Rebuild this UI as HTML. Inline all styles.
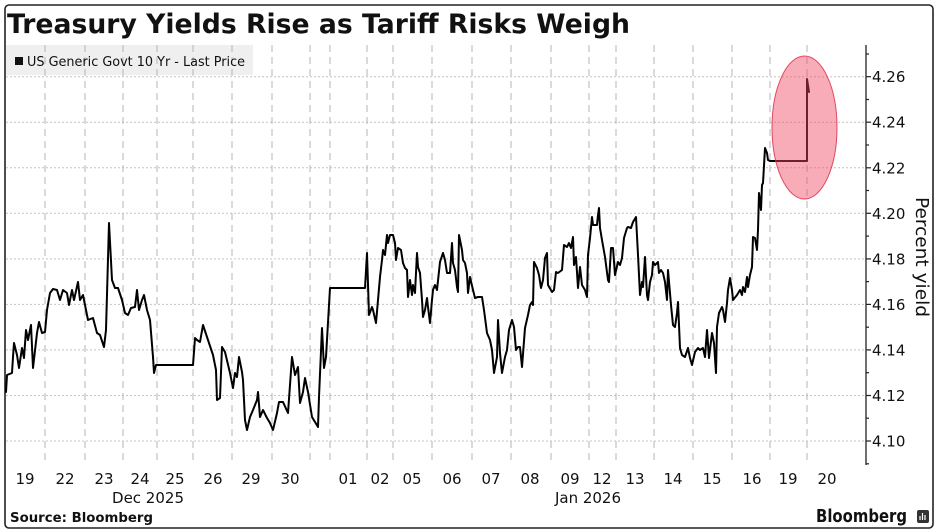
<!DOCTYPE html>
<html>
<head>
<meta charset="utf-8">
<style>
  html,body{margin:0;padding:0;background:#fff;}
  svg{display:block;}
  text{font-family:"DejaVu Sans","Liberation Sans",sans-serif;fill:#111;}
</style>
</head>
<body>
<svg width="937" height="530" viewBox="0 0 937 530" xmlns="http://www.w3.org/2000/svg">
  <rect x="0" y="0" width="937" height="530" fill="#fff"/>
  <!-- frame -->
  <rect x="5" y="5" width="928" height="523" rx="4" ry="4" fill="none" stroke="#222" stroke-width="1.6"/>

  <!-- title -->
  <text x="7" y="33" font-size="27" font-weight="bold" textLength="623" lengthAdjust="spacingAndGlyphs">Treasury Yields Rise as Tariff Risks Weigh</text>

  <!-- legend box -->
  <rect x="6" y="45" width="247" height="30" fill="#efefef"/>

  <!-- horizontal gridlines -->
  <g stroke="#c4c4c4" stroke-width="1" stroke-dasharray="2,2">
    <line x1="6" y1="76.7" x2="866" y2="76.7"/>
    <line x1="6" y1="122.2" x2="866" y2="122.2"/>
    <line x1="6" y1="167.8" x2="866" y2="167.8"/>
    <line x1="6" y1="213.3" x2="866" y2="213.3"/>
    <line x1="6" y1="258.9" x2="866" y2="258.9"/>
    <line x1="6" y1="304.4" x2="866" y2="304.4"/>
    <line x1="6" y1="349.9" x2="866" y2="349.9"/>
    <line x1="6" y1="395.5" x2="866" y2="395.5"/>
    <line x1="6" y1="441" x2="866" y2="441"/>
  </g>

  <!-- vertical gridlines -->
  <g stroke="#b4b4b4" stroke-width="1" stroke-dasharray="7,5">
    <line x1="45" y1="45" x2="45" y2="463"/>
    <line x1="85" y1="45" x2="85" y2="463"/>
    <line x1="123" y1="45" x2="123" y2="463"/>
    <line x1="157" y1="45" x2="157" y2="463"/>
    <line x1="193" y1="45" x2="193" y2="463"/>
    <line x1="232" y1="45" x2="232" y2="463"/>
    <line x1="272" y1="45" x2="272" y2="463"/>
    <line x1="310" y1="45" x2="310" y2="463"/>
    <line x1="330" y1="45" x2="330" y2="463"/>
    <line x1="367" y1="45" x2="367" y2="463"/>
    <line x1="393" y1="45" x2="393" y2="463"/>
    <line x1="432" y1="45" x2="432" y2="463"/>
    <line x1="472" y1="45" x2="472" y2="463"/>
    <line x1="511" y1="45" x2="511" y2="463"/>
    <line x1="551" y1="45" x2="551" y2="463"/>
    <line x1="589" y1="45" x2="589" y2="463"/>
    <line x1="616" y1="45" x2="616" y2="463"/>
    <line x1="654" y1="45" x2="654" y2="463"/>
    <line x1="693" y1="45" x2="693" y2="463"/>
    <line x1="732" y1="45" x2="732" y2="463"/>
    <line x1="770" y1="45" x2="770" y2="463"/>
    <line x1="807" y1="45" x2="807" y2="463"/>
  </g>

  <!-- legend content -->
  <rect x="15" y="57" width="8" height="8" fill="#111"/>
  <text x="27" y="66" font-size="13.5" textLength="218" lengthAdjust="spacingAndGlyphs">US Generic Govt 10 Yr - Last Price</text>

  <!-- data line -->
  <polyline fill="none" stroke="#000" stroke-width="2" stroke-linejoin="round" stroke-linecap="round" points="
6,392 7,375 12,373 13,357 14,343 17,355 19,368 22,348 24,358 26,330 28,340 31,325 33,368 37,333 39,322 42,333 45,332 47,310 50,293 53,289 57,290 60,300 63,290 67,293 69,305 72,290 74,300 78,282 80,300 83,295 86,310 88,320 93,318 97,333 100,335 104,347 106,330 109,223 112,280 115,288 118,288 122,300 125,313 128,315 131,308 135,307 137,290 139,310 142,300 144,295 147,310 150,320 153,357 154,373 156,365 193,365 195,338 197,340 200,342 203,325 208,340 213,355 216,370 217,400 220,398 222,347 225,352 230,373 233,388 235,373 237,377 239,357 242,372 243,380 245,420 247,430 250,417 253,410 257,400 258,392 260,417 263,410 267,418 270,423 273,430 277,413 279,402 283,402 288,413 292,357 295,375 298,367 300,403 303,392 305,378 308,392 312,417 315,422 318,427 319,397 322,328 324,368 326,357 330,288
365,288 367,253 369,315 372,307 373,310 376,323 378,300 380,277 382,260 383,250 385,255 387,235 388,243 390,235 393,235 395,243 396,260 398,248 401,250 403,263 405,268 407,270 408,297 410,280 412,295 413,285 415,293 417,253 418,267 420,273 422,300 423,317 425,310 427,298 428,307 430,323 432,300 433,290 435,285 437,290 440,262 443,253 445,260 447,273 450,273 452,243 453,263 455,270 457,287 458,292 459,235 462,250 463,260 465,263 467,273 468,293 470,277 473,290 475,298 478,297 482,297 484,310 487,333 490,340 492,350 494,373 497,357 498,320 500,353 502,373 505,357 507,350 509,330 512,320 514,327 516,350 518,347
520,347 522,367 525,328 528,315 530,305 532,302 533,305 534,262 537,268 539,275 541,288 543,280 545,258 547,253 548,285 552,292 554,290 556,272 558,273 562,270 564,245 567,247 569,243 571,248 573,237 574,265 576,257 578,288 580,267 582,285 585,290 587,297 588,255 590,238 592,217 593,225 597,225 598,215 599,208 600,228 602,240 605,257 608,280 609,282 611,248 613,248 615,275 618,262 620,265 622,258 624,238 627,228 628,227 631,228 633,222 636,217 638,255 640,295 642,282 643,287 645,257 647,295 648,300 650,282 652,275 653,262 655,265 658,262 659,273 661,270 663,273 665,282 667,300 668,270 671,305 673,325 675,327 677,313 678,302 680,348 682,355 685,357 688,348 690,358 692,365 695,352 698,348 700,350 703,348
705,357 707,330 709,358 712,333 714,343 716,373 717,327 719,313 722,307 723,310 725,322 727,303 728,290 730,278 732,290 733,300 737,295 740,290 742,295 743,287 745,292 747,277 748,287 750,275 752,267 753,237 755,238 757,250 758,230 759,193 761,210 762,185 763,183 765,148 767,153 768,160 770,161 807,161 807,79 809,92"/>

  <!-- highlight ellipse -->
  <ellipse cx="804.5" cy="127.5" rx="32.5" ry="71.5" fill="rgba(240,70,95,0.45)" stroke="rgba(222,45,75,0.85)" stroke-width="1"/>

  <!-- y axis -->
  <line x1="866" y1="45" x2="866" y2="465" stroke="#222" stroke-width="1.3"/>
  <g stroke="#222" stroke-width="1.2">
    <line x1="866" y1="54" x2="869" y2="54"/>
    <line x1="866" y1="76.7" x2="871" y2="76.7"/>
    <line x1="866" y1="99.5" x2="869" y2="99.5"/>
    <line x1="866" y1="122.2" x2="871" y2="122.2"/>
    <line x1="866" y1="145" x2="869" y2="145"/>
    <line x1="866" y1="167.8" x2="871" y2="167.8"/>
    <line x1="866" y1="190.5" x2="869" y2="190.5"/>
    <line x1="866" y1="213.3" x2="871" y2="213.3"/>
    <line x1="866" y1="236.1" x2="869" y2="236.1"/>
    <line x1="866" y1="258.9" x2="871" y2="258.9"/>
    <line x1="866" y1="281.6" x2="869" y2="281.6"/>
    <line x1="866" y1="304.4" x2="871" y2="304.4"/>
    <line x1="866" y1="327.2" x2="869" y2="327.2"/>
    <line x1="866" y1="349.9" x2="871" y2="349.9"/>
    <line x1="866" y1="372.7" x2="869" y2="372.7"/>
    <line x1="866" y1="395.5" x2="871" y2="395.5"/>
    <line x1="866" y1="418.2" x2="869" y2="418.2"/>
    <line x1="866" y1="441" x2="871" y2="441"/>
    <line x1="866" y1="463.8" x2="869" y2="463.8"/>
  </g>
  <g font-size="15">
    <text x="872" y="82.2">4.26</text>
    <text x="872" y="127.7">4.24</text>
    <text x="872" y="173.3">4.22</text>
    <text x="872" y="218.8">4.20</text>
    <text x="872" y="264.4">4.18</text>
    <text x="872" y="309.9">4.16</text>
    <text x="872" y="355.4">4.14</text>
    <text x="872" y="401">4.12</text>
    <text x="872" y="446.5">4.10</text>
  </g>
  <text transform="translate(916,257) rotate(90)" text-anchor="middle" font-size="18" textLength="120" lengthAdjust="spacingAndGlyphs">Percent yield</text>

  <!-- x labels -->
  <g font-size="15" text-anchor="middle">
    <text x="25" y="484">19</text>
    <text x="65" y="484">22</text>
    <text x="104" y="484">23</text>
    <text x="140" y="484">24</text>
    <text x="175" y="484">25</text>
    <text x="213" y="484">26</text>
    <text x="251" y="484">29</text>
    <text x="290" y="484">30</text>
    <text x="348" y="484">01</text>
    <text x="380" y="484">02</text>
    <text x="412" y="484">05</text>
    <text x="452" y="484">06</text>
    <text x="491" y="484">07</text>
    <text x="530" y="484">08</text>
    <text x="570" y="484">09</text>
    <text x="602" y="484">12</text>
    <text x="635" y="484">13</text>
    <text x="673" y="484">14</text>
    <text x="712" y="484">15</text>
    <text x="752" y="484">16</text>
    <text x="788" y="484">19</text>
    <text x="827" y="484">20</text>
    <text x="148" y="503">Dec 2025</text>
    <text x="588" y="503">Jan 2026</text>
  </g>

  <!-- footer -->
  <text x="10" y="522" font-size="13" font-weight="bold" textLength="143" lengthAdjust="spacingAndGlyphs">Source: Bloomberg</text>
  <text x="816" y="522" font-size="17.5" font-weight="bold" textLength="91" lengthAdjust="spacingAndGlyphs">Bloomberg</text>
  <rect x="917" y="510" width="12" height="13" rx="2" fill="#333"/>
  <g stroke="#fff" stroke-width="1.2">
    <line x1="920" y1="520" x2="920" y2="516"/>
    <line x1="922.5" y1="520" x2="922.5" y2="513"/>
    <line x1="925" y1="520" x2="925" y2="515"/>
  </g>
</svg>
</body>
</html>
